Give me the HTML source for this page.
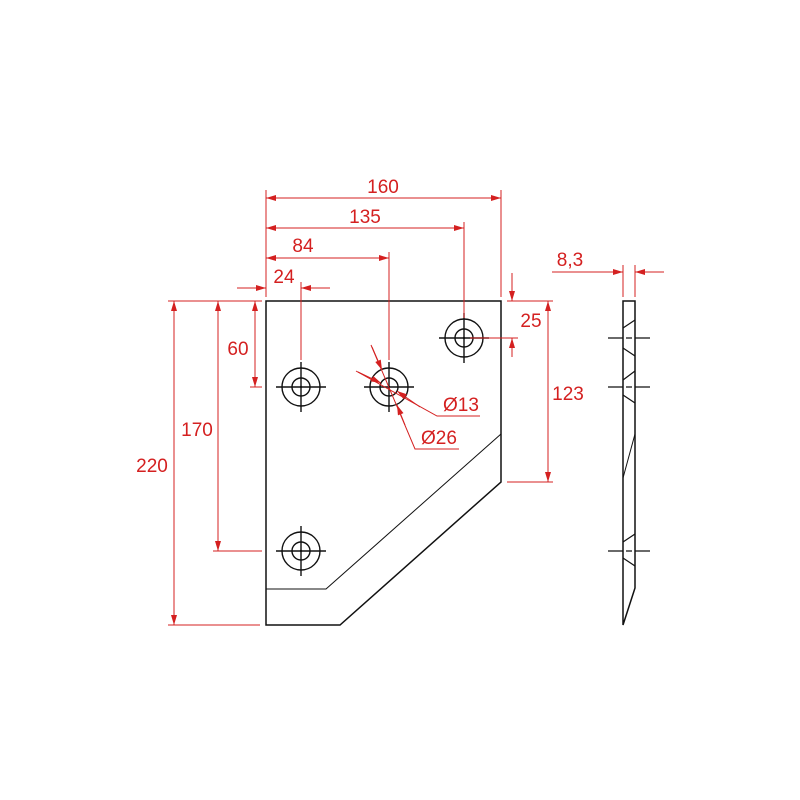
<!DOCTYPE html>
<html><head><style>body{margin:0;background:#fff}svg{display:block}</style></head><body>
<svg width="800" height="800" viewBox="0 0 800 800" xmlns="http://www.w3.org/2000/svg">
<defs>
<marker id="a" viewBox="0 0 10 6" refX="10" refY="3" markerWidth="11" markerHeight="6" markerUnits="userSpaceOnUse" orient="auto-start-reverse"><path d="M0,0L10,3L0,6z" fill="#d42020"/></marker>
</defs>
<g stroke="#111" stroke-width="1.5" fill="none">
<path d="M266,301H501V482L340,625H266Z"/>
<path d="M501,434L326,589H266" stroke-width="1"/>
<path d="M623,301H635V588L623,625Z"/>
<path d="M623,478L635,434" stroke-width="1"/>
<path d="M623,328L635,320M623,348L635,356M623,380L635,371M623,395L635,403M623,542L635,534M623,558L635,566" stroke-width="1.2"/>
<path d="M608,338H623M635,338H650M626,338H632M608,387H623M635,387H650M626,387H632M608,551H623M635,551H650M626,551H632" stroke-width="1.2"/>
</g>
<g stroke="#111" stroke-width="1.4" fill="none">
<g transform="translate(301,387)"><circle r="19"/><circle r="9"/><path d="M-25,0H25M0,-25V25"/></g>
<g transform="translate(389,387)"><circle r="19"/><circle r="9"/><path d="M-25,0H25M0,-25V25"/></g>
<g transform="translate(464,338)"><circle r="19"/><circle r="9"/><path d="M-25,0H25M0,-25V25"/></g>
<g transform="translate(301,551)"><circle r="19"/><circle r="9"/><path d="M-25,0H25M0,-25V25"/></g>
</g>
<g fill="#111"><circle cx="301" cy="387" r="1.2"/><circle cx="389" cy="387" r="1.2"/><circle cx="464" cy="338" r="1.2"/><circle cx="301" cy="551" r="1.2"/></g>
<g stroke="#d42020" stroke-width="1" fill="none">
<path d="M266,297V190M501,297V190M464,318V222M389,360V252M301,360V282"/>
<path d="M266,198H501" marker-start="url(#a)" marker-end="url(#a)"/>
<path d="M266,228H464" marker-start="url(#a)" marker-end="url(#a)"/>
<path d="M266,258H389" marker-start="url(#a)" marker-end="url(#a)"/>
<path d="M237,288H266" marker-end="url(#a)"/><path d="M330,288H301" marker-end="url(#a)"/>
<path d="M168,301H262M168,625H260M213,551H262M250,387H262"/>
<path d="M174,301V625" marker-start="url(#a)" marker-end="url(#a)"/>
<path d="M218,301V551" marker-start="url(#a)" marker-end="url(#a)"/>
<path d="M255,301V387" marker-start="url(#a)" marker-end="url(#a)"/>
<path d="M507,301H553M470,338H518M507,482H553"/>
<path d="M512,273V301" marker-end="url(#a)"/><path d="M512,357V338" marker-end="url(#a)"/>
<path d="M548,301V482" marker-start="url(#a)" marker-end="url(#a)"/>
<path d="M623,297V265M635,297V265"/>
<path d="M552,272H623" marker-end="url(#a)"/><path d="M664,272H635" marker-end="url(#a)"/>
<path d="M356,371L437,416H480"/>
<path d="M358,372L381,383" marker-end="url(#a)"/><path d="M420,407L397,391" marker-end="url(#a)"/>
<path d="M371,345L415,449H459"/>
<path d="M372,347L382,370" marker-end="url(#a)"/><path d="M405,425L397,405" marker-end="url(#a)"/>
</g>
<g fill="#d42020" font-family="Liberation Sans, sans-serif" font-size="19" text-anchor="middle">
<text x="383" y="193">160</text>
<text x="365" y="223">135</text>
<text x="303" y="252">84</text>
<text x="284" y="283">24</text>
<text x="152" y="472">220</text>
<text x="197" y="436">170</text>
<text x="238" y="355">60</text>
<text x="531" y="327">25</text>
<text x="568" y="400">123</text>
<text x="570" y="266">8,3</text>
<text x="461" y="411">Ø13</text>
<text x="439" y="444">Ø26</text>
</g>
</svg>
</body></html>
